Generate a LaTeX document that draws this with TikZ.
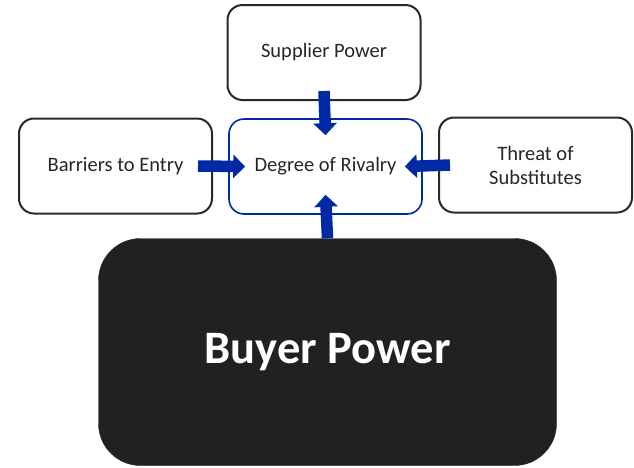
\documentclass[tikz,border=0pt]{standalone}
\usepackage{fontspec}
\setmainfont{Carlito}
\usetikzlibrary{arrows.meta}
\definecolor{arrowblue}{RGB}{0,42,165}
\definecolor{boxgray}{RGB}{40,40,40}
\definecolor{buyerfill}{RGB}{33,33,33}

\begin{document}
\begin{tikzpicture}[x=1pt,y=1pt]

\tikzset{force/.style = {shape=rectangle, rounded corners=15pt, draw=boxgray, line width=2pt, fill=white, minimum width=193pt, minimum height=95pt, align=center, text=black!85, font=\fontsize{20.5}{24}\selectfont}}
\tikzset{rival/.style = {force, draw=arrowblue, line width=1.6pt}}
\tikzset{push/.style = {-{Triangle[width=23pt,length=12pt]}, line width=11.5pt, draw=arrowblue, fill=arrowblue}}
\useasboundingbox (0,0) rectangle (634,-467);
%boxes
\node[force] (supplier) at (324,-52.5) {Supplier Power};
\node[force] (barriers) at (115.5,-166) {Barriers to Entry};
\node[rival] (rivalry) at (325.5,-166.5) {Degree of Rivalry};
\node[force] (threat) at (535.5,-165) {Threat of\\Substitutes};
\node[shape=rectangle, rounded corners=42pt, fill=buyerfill, draw=buyerfill, minimum width=458pt, minimum height=227pt, text=white, font=\fontsize{46.5}{54}\selectfont\bfseries] (buyer) at (327.5,-352) {Buyer Power};
%arrows
\draw[push] ([yshift=10pt]supplier.south) -- ([yshift=-17pt]rivalry.north);
\draw[push] ([xshift=-15pt]barriers.east) -- ([xshift=17pt]rivalry.west);
\draw[push] ([xshift=12pt]threat.west) -- ([xshift=-18pt]rivalry.east);
\draw[push] (buyer.north) -- ([yshift=20pt]rivalry.south);

\end{tikzpicture}
\end{document}
